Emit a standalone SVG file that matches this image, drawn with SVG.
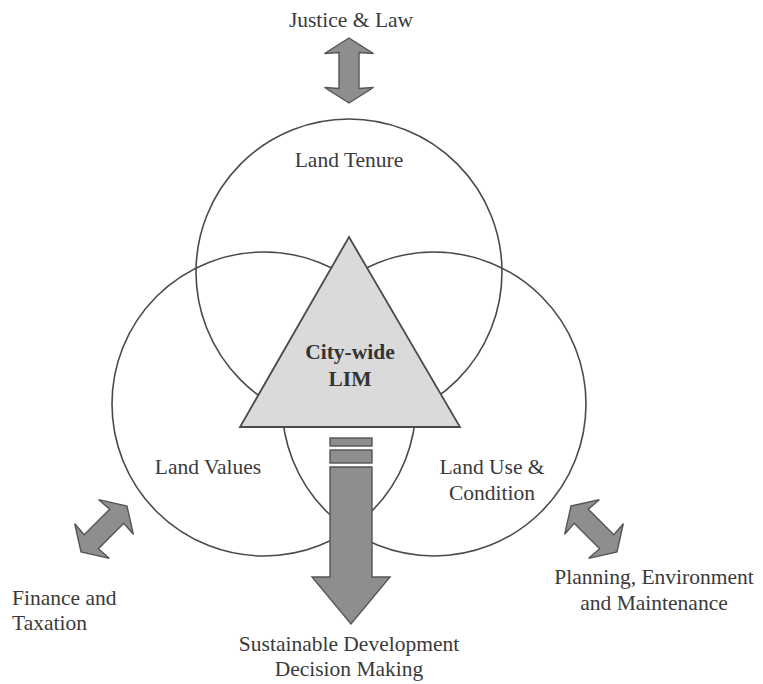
<svg xmlns="http://www.w3.org/2000/svg" width="763" height="684" viewBox="0 0 763 684">
<defs>
<style>
.t{font-family:"Liberation Serif","Times New Roman",serif;font-size:21.5px;fill:#3a3a3a;text-anchor:middle}
.b{font-weight:bold;fill:#333}
.c{fill:none;stroke:#4a4a4a;stroke-width:1.6}
.arr{fill:#8e8e8e;stroke:#555;stroke-width:1.4;stroke-linejoin:miter}
.tri{fill:#dadada;stroke:#4a4a4a;stroke-width:1.8;stroke-linejoin:miter}
</style>
<path id="dbl" d="M0,-32.5 L24.5,-17 L10,-18 L10,18 L24.5,17 L0,32.5 L-24.5,17 L-10,18 L-10,-18 L-24.5,-17 Z"/>
</defs>
<rect width="763" height="684" fill="#ffffff"/>
<g id="land-tenure"><circle class="c" cx="349" cy="272" r="153"/><text class="t" x="349" y="167">Land Tenure</text></g>
<g id="land-values"><circle class="c" cx="264" cy="404" r="152"/><text class="t" x="208" y="474">Land Values</text></g>
<g id="land-use"><circle class="c" cx="434" cy="404" r="152"/><text class="t" x="492" y="474">Land Use &amp;</text><text class="t" x="492" y="500">Condition</text></g>
<g id="connectors">
<use href="#dbl" class="arr" transform="translate(349,70.5)"/>
<use href="#dbl" class="arr" transform="translate(104,529) rotate(45)"/>
<use href="#dbl" class="arr" transform="translate(594,529) rotate(-45)"/>
<rect class="arr" x="330" y="438" width="42" height="8"/>
<rect class="arr" x="330" y="450" width="42" height="13"/>
<path class="arr" d="M330,467 L372,467 L372,577 L390,577 L351,624 L312,577 L330,577 Z"/>
</g>
<g id="city-wide-lim"><path class="tri" d="M349,237 L460,427 L240,427 Z"/><text class="t b" x="350" y="359">City-wide</text><text class="t b" x="350" y="386">LIM</text></g>
<g id="justice-law"><text class="t" x="351" y="27">Justice &amp; Law</text></g>
<g id="finance-taxation"><text class="t" x="12" y="605" style="text-anchor:start">Finance and</text><text class="t" x="12" y="630" style="text-anchor:start">Taxation</text></g>
<g id="planning"><text class="t" x="654" y="584">Planning, Environment</text><text class="t" x="654" y="610">and Maintenance</text></g>
<g id="sustainable"><text class="t" x="349" y="651">Sustainable Development</text><text class="t" x="349" y="676">Decision Making</text></g>
</svg>
